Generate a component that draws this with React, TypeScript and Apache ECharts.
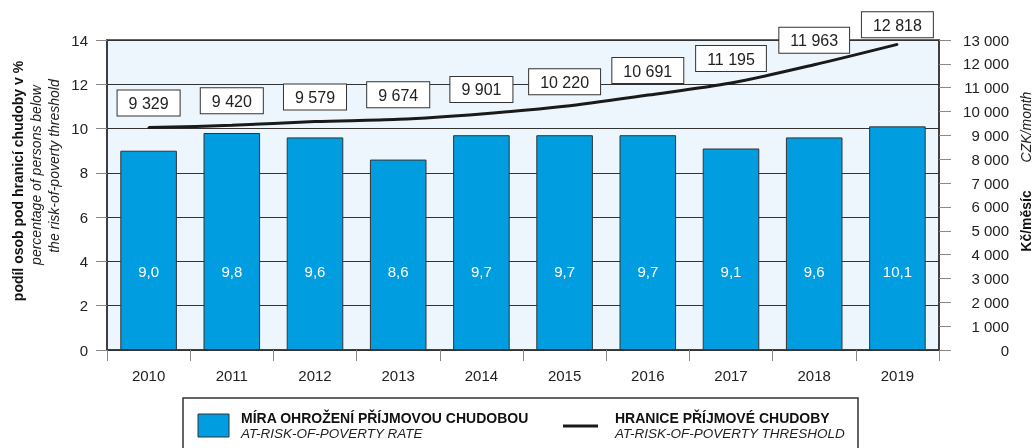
import React, { useEffect, useRef } from "react";
import * as echarts from "echarts";

const years = ["2010", "2011", "2012", "2013", "2014", "2015", "2016", "2017", "2018", "2019"];
const povertyRate = [9.0, 9.8, 9.6, 8.6, 9.7, 9.7, 9.7, 9.1, 9.6, 10.1];
const povertyThreshold = [9329, 9420, 9579, 9674, 9901, 10220, 10691, 11195, 11963, 12818];

const leftAxisTitle = ["podíl osob pod hranicí chudoby v %", "percentage of persons below", "the risk-of-poverty threshold"];
const rightAxisTitle = ["Kč/měsíc", "CZK/month"];
const legendRate = ["MÍRA OHROŽENÍ PŘÍJMOVOU CHUDOBOU", "AT-RISK-OF-POVERTY RATE"];
const legendThreshold = ["HRANICE PŘÍJMOVÉ CHUDOBY", "AT-RISK-OF-POVERTY THRESHOLD"];

const FONT = "'Liberation Sans', Arial, Helvetica, sans-serif";

const fmtThousands = (n: number) => String(n).replace(/\B(?=(\d{3})+(?!\d))/g, " ");
const fmtDecimal = (n: number) => n.toFixed(1).replace(".", ",");

export default function App() {
  const ref = useRef<HTMLDivElement>(null);

  useEffect(() => {
    if (!ref.current) return;
    const chart = echarts.init(ref.current, undefined, { renderer: "svg" });

    const lineData = povertyThreshold.map((v, i) =>
      i === povertyThreshold.length - 1 ? { value: v, label: { distance: 6 } } : { value: v }
    );

    chart.setOption({
      animation: false,
      textStyle: { fontFamily: FONT },
      grid: {
        left: 107,
        right: 94,
        top: 40,
        bottom: 98,
        show: true,
        backgroundColor: "#EEF6FD",
        borderColor: "#333",
        borderWidth: 1.5,
      },
      xAxis: {
        type: "category",
        data: years,
        axisLine: { lineStyle: { color: "#333", width: 1.5 } },
        axisTick: { show: true, length: 11, lineStyle: { color: "#888" } },
        axisLabel: { fontSize: 15, color: "#222", margin: 18, fontFamily: FONT },
      },
      yAxis: [
        {
          type: "value",
          min: 0,
          max: 14,
          interval: 2,
          position: "left",
          axisLine: { show: true, lineStyle: { color: "#333", width: 1.5 } },
          axisTick: { show: true, length: 11, lineStyle: { color: "#888" } },
          axisLabel: { fontSize: 15, color: "#222", margin: 19, fontFamily: FONT },
          splitLine: { show: true, lineStyle: { color: "#333", width: 1 } },
        },
        {
          type: "value",
          min: 0,
          max: 13000,
          interval: 1000,
          position: "right",
          axisLine: { show: true, lineStyle: { color: "#333", width: 1.5 } },
          axisTick: { show: true, length: 12, lineStyle: { color: "#888" } },
          axisLabel: {
            fontSize: 15,
            color: "#222",
            margin: 70,
            align: "right",
            fontFamily: FONT,
            formatter: (v: number) => fmtThousands(v),
          },
          splitLine: { show: false },
        },
      ],
      series: [
        {
          name: "rate",
          type: "bar",
          yAxisIndex: 0,
          data: povertyRate,
          barWidth: "68%",
          itemStyle: { color: "#009EE0", borderColor: "#333", borderWidth: 1 },
          label: {
            show: true,
            position: "insideBottom",
            distance: 71,
            color: "#fff",
            fontSize: 15,
            fontFamily: FONT,
            formatter: (p: any) => fmtDecimal(p.value),
          },
          z: 2,
        },
        {
          name: "threshold",
          type: "line",
          yAxisIndex: 1,
          data: lineData,
          smooth: 0.3,
          symbol: "circle",
          symbolSize: 2,
          showSymbol: true,
          itemStyle: { color: "#1a1a1a" },
          lineStyle: { color: "#1a1a1a", width: 3 },
          label: {
            show: true,
            position: "top",
            distance: 11,
            color: "#222",
            fontSize: 16,
            fontFamily: FONT,
            backgroundColor: "#fff",
            borderColor: "#333",
            borderWidth: 1,
            padding: [5, 11, 4, 11],
            formatter: (p: any) => fmtThousands(Number(p.value)),
          },
          z: 5,
        },
      ],
      graphic: [
        {
          type: "text",
          x: 18,
          y: 181,
          rotation: Math.PI / 2,
          style: { text: leftAxisTitle[0], fontSize: 14, fontWeight: "bold", fontFamily: FONT, fill: "#111", align: "center", verticalAlign: "middle" },
        },
        {
          type: "text",
          x: 36,
          y: 175,
          rotation: Math.PI / 2,
          style: { text: leftAxisTitle[1], fontSize: 14, fontStyle: "italic", fontFamily: FONT, fill: "#222", align: "center", verticalAlign: "middle" },
        },
        {
          type: "text",
          x: 54,
          y: 166,
          rotation: Math.PI / 2,
          style: { text: leftAxisTitle[2], fontSize: 14, fontStyle: "italic", fontFamily: FONT, fill: "#222", align: "center", verticalAlign: "middle" },
        },
        {
          type: "text",
          x: 1026,
          y: 221,
          rotation: Math.PI / 2,
          style: { text: rightAxisTitle[0], fontSize: 14, fontWeight: "bold", fontFamily: FONT, fill: "#111", align: "center", verticalAlign: "middle" },
        },
        {
          type: "text",
          x: 1026,
          y: 127,
          rotation: Math.PI / 2,
          style: { text: rightAxisTitle[1], fontSize: 14, fontStyle: "italic", fontFamily: FONT, fill: "#222", align: "center", verticalAlign: "middle" },
        },
        {
          type: "rect",
          shape: { x: 183, y: 398, width: 675, height: 60 },
          style: { fill: "#fff", stroke: "#333", lineWidth: 1.5 },
        },
        {
          type: "rect",
          shape: { x: 198, y: 414, width: 31, height: 23 },
          style: { fill: "#009EE0", stroke: "#333", lineWidth: 1 },
        },
        {
          type: "text",
          x: 241,
          y: 418,
          style: { text: legendRate[0], fontSize: 14, fontWeight: "bold", fontFamily: FONT, fill: "#111", align: "left", verticalAlign: "middle" },
        },
        {
          type: "text",
          x: 241,
          y: 433,
          style: { text: legendRate[1], fontSize: 13.5, fontStyle: "italic", fontFamily: FONT, fill: "#222", align: "left", verticalAlign: "middle" },
        },
        {
          type: "line",
          shape: { x1: 563, y1: 426, x2: 598, y2: 426 },
          style: { stroke: "#1a1a1a", lineWidth: 3 },
        },
        {
          type: "text",
          x: 615,
          y: 418,
          style: { text: legendThreshold[0], fontSize: 14, fontWeight: "bold", fontFamily: FONT, fill: "#111", align: "left", verticalAlign: "middle" },
        },
        {
          type: "text",
          x: 615,
          y: 433,
          style: { text: legendThreshold[1], fontSize: 13.5, fontStyle: "italic", fontFamily: FONT, fill: "#222", align: "left", verticalAlign: "middle" },
        },
      ],
    });

    return () => chart.dispose();
  }, []);

  return <div ref={ref} style={{ position: "fixed", left: 0, top: 0, width: 1033, height: 448 }} />;
}
